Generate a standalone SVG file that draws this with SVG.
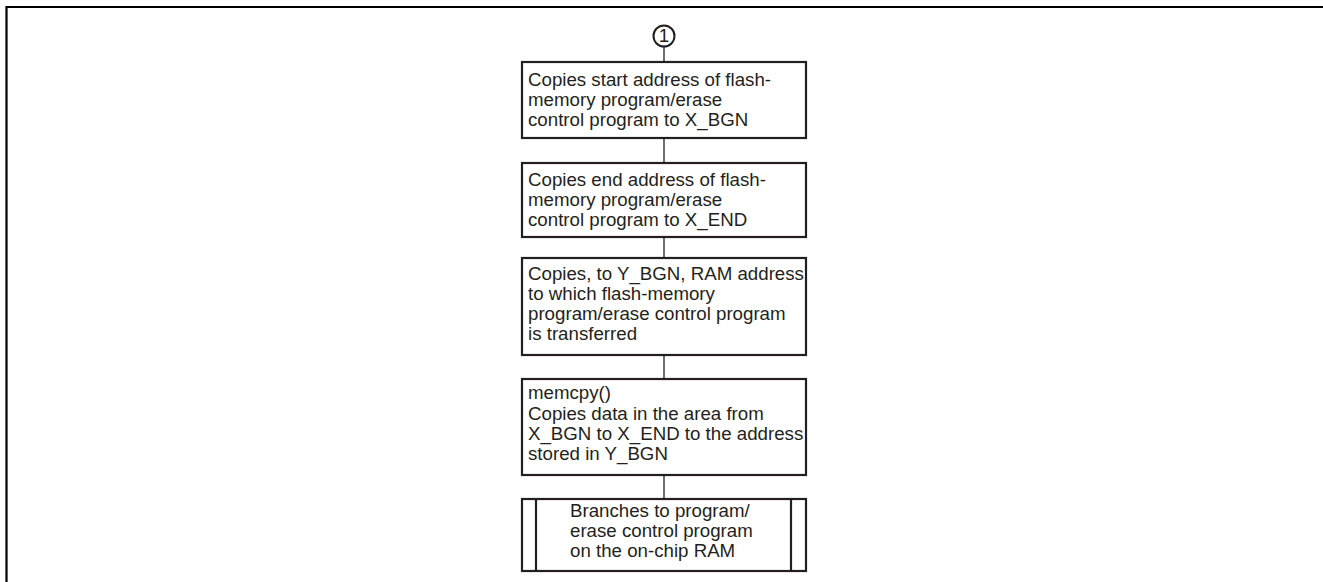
<svg xmlns="http://www.w3.org/2000/svg" width="1323" height="582" viewBox="0 0 1323 582">
  <style>
    .frame { fill: none; stroke: #000; stroke-width: 2.2; }
    .box { fill: #fff; stroke: #231f20; stroke-width: 2.2; }
    .link { fill: none; stroke: #231f20; stroke-width: 1.3; }
    .lbl { font-family: "Liberation Sans", Arial, sans-serif; font-size: 18.7px; fill: #231f20; }
  </style>

  <!-- page frame (top and left edges only) -->
  <path class="frame" d="M6.5,582 V7 H1323"/>

  <!-- connectors -->
  <g id="connectors">
    <line class="link" x1="664" y1="46" x2="664" y2="62"/>
    <line class="link" x1="664" y1="138" x2="664" y2="163"/>
    <line class="link" x1="664" y1="237" x2="664" y2="258"/>
    <line class="link" x1="664" y1="355" x2="664" y2="379"/>
    <line class="link" x1="664" y1="475" x2="664" y2="499"/>
  </g>

  <!-- off-page connector 1 -->
  <g id="connector-1">
    <circle cx="664" cy="36" r="10.5" fill="#fff" stroke="#231f20" stroke-width="2"/>
    <text class="lbl" x="664" y="42" text-anchor="middle" font-size="16">1</text>
  </g>

  <g id="copy-start">
    <rect class="box" x="522" y="62" width="284" height="76"/>
    <text class="lbl">
      <tspan x="528" y="86">Copies start address of flash-</tspan>
      <tspan x="528" y="106">memory program/erase</tspan>
      <tspan x="528" y="126">control program to X_BGN</tspan>
    </text>
  </g>

  <g id="copy-end">
    <rect class="box" x="522" y="163" width="284" height="74"/>
    <text class="lbl">
      <tspan x="528" y="186">Copies end address of flash-</tspan>
      <tspan x="528" y="206">memory program/erase</tspan>
      <tspan x="528" y="226">control program to X_END</tspan>
    </text>
  </g>

  <g id="copy-ram-address">
    <rect class="box" x="522" y="258" width="284" height="97"/>
    <text class="lbl">
      <tspan x="528" y="280">Copies, to Y_BGN, RAM address</tspan>
      <tspan x="528" y="300">to which flash-memory</tspan>
      <tspan x="528" y="320">program/erase control program</tspan>
      <tspan x="528" y="340">is transferred</tspan>
    </text>
  </g>

  <g id="memcpy">
    <rect class="box" x="522" y="379" width="284" height="96"/>
    <text class="lbl">
      <tspan x="528" y="399">memcpy()</tspan>
      <tspan x="528" y="419.5">Copies data in the area from</tspan>
      <tspan x="528" y="440">X_BGN to X_END to the address</tspan>
      <tspan x="528" y="460">stored in Y_BGN</tspan>
    </text>
  </g>

  <!-- predefined process -->
  <g id="branch-to-ram">
    <rect class="box" x="522" y="499" width="284" height="72"/>
    <line class="box" x1="536" y1="499" x2="536" y2="571"/>
    <line class="box" x1="791" y1="499" x2="791" y2="571"/>
    <text class="lbl">
      <tspan x="570" y="517">Branches to program/</tspan>
      <tspan x="570" y="537">erase control program</tspan>
      <tspan x="570" y="557">on the on-chip RAM</tspan>
    </text>
  </g>
</svg>
